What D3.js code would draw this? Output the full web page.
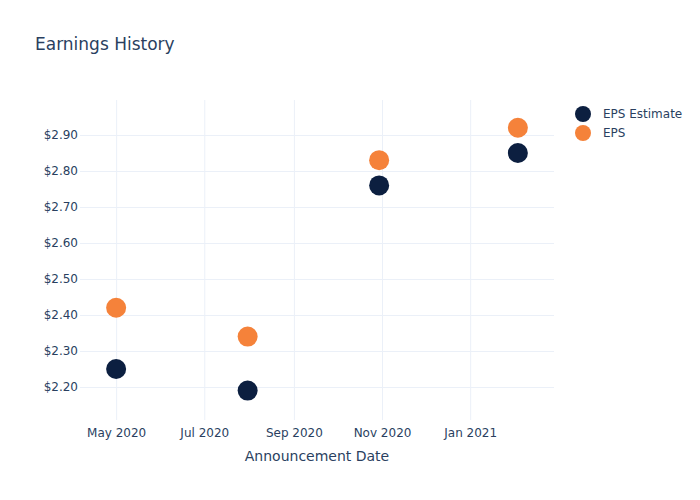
<!DOCTYPE html>
<html>
<head>
<meta charset="utf-8">
<script src="https://cdn.jsdelivr.net/npm/d3@7"></script>
<style>
  html, body { margin: 0; padding: 0; background: #fff; }
  svg { display: block; font-family: "DejaVu Sans", sans-serif; }
</style>
</head>
<body>
<svg id="chart" width="700" height="500"></svg>
<script>
// ---- data ----
const dates = ["2020-05-01", "2020-07-31", "2020-10-30", "2021-02-03"];
const epsEstimate = [2.25, 2.19, 2.76, 2.85];
const eps = [2.42, 2.34, 2.83, 2.92];
const seriesNames = ["EPS Estimate", "EPS"];
const seriesColors = ["#0c1f40", "#f5823a"];
const yTicks = [2.2, 2.3, 2.4, 2.5, 2.6, 2.7, 2.8, 2.9];
const xTicks = ["2020-05-01", "2020-07-01", "2020-09-01", "2020-11-01", "2021-01-01"];
const xDomain = ["2020-04-06", "2021-02-28"];
const yDomain = [2.1083, 2.9972];
const title = "Earnings History";
const xTitle = "Announcement Date";

// ---- layout ----
const svg = d3.select("#chart");
const plot = { left: 80, right: 554, top: 100, bottom: 420 };
const parse = d3.utcParse("%Y-%m-%d");
const textColor = "#2a3f5f";
const gridColor = "#ebf0f8";

const x = d3.scaleUtc().domain(xDomain.map(parse)).range([plot.left, plot.right]);
const y = d3.scaleLinear().domain(yDomain).range([plot.bottom, plot.top]);

// gridlines
const gx = svg.append("g")
  .attr("transform", `translate(0,${plot.bottom})`)
  .call(d3.axisBottom(x)
    .tickValues(xTicks.map(parse))
    .tickSize(-(plot.bottom - plot.top))
    .tickPadding(8)
    .tickFormat(d3.utcFormat("%b %Y")));
gx.select(".domain").remove();
gx.selectAll(".tick line").attr("stroke", gridColor).attr("stroke-width", 1);
gx.selectAll(".tick text").attr("fill", textColor).attr("font-size", 12)
  .attr("font-family", "DejaVu Sans, sans-serif");

const gy = svg.append("g")
  .attr("transform", `translate(${plot.left},0)`)
  .call(d3.axisLeft(y)
    .tickValues(yTicks)
    .tickSize(-(plot.right - plot.left))
    .tickPadding(2)
    .tickFormat(d => "$" + d3.format(".2f")(d)));
gy.select(".domain").remove();
gy.selectAll(".tick line").attr("stroke", gridColor).attr("stroke-width", 1);
gy.selectAll(".tick text").attr("fill", textColor).attr("font-size", 12)
  .attr("font-family", "DejaVu Sans, sans-serif");

// points
const series = [epsEstimate, eps];
series.forEach((vals, i) => {
  svg.append("g").selectAll("circle")
    .data(vals.map((v, j) => ({ d: parse(dates[j]), v })))
    .join("circle")
    .attr("cx", p => x(p.d))
    .attr("cy", p => y(p.v))
    .attr("r", 10)
    .attr("fill", seriesColors[i]);
});

// title
svg.append("text")
  .attr("x", 35).attr("y", 50)
  .attr("fill", textColor).attr("font-size", 17)
  .text(title);

// x axis title
svg.append("text")
  .attr("x", (plot.left + plot.right) / 2).attr("y", 461)
  .attr("text-anchor", "middle")
  .attr("fill", textColor).attr("font-size", 14)
  .text(xTitle);

// legend
const lg = svg.append("g");
seriesNames.forEach((name, i) => {
  const cy = 114 + i * 19;
  lg.append("circle").attr("cx", 583).attr("cy", cy).attr("r", 8).attr("fill", seriesColors[i]);
  lg.append("text").attr("x", 603).attr("y", cy + 4)
    .attr("fill", textColor).attr("font-size", 12).text(name);
});
</script>
</body>
</html>
